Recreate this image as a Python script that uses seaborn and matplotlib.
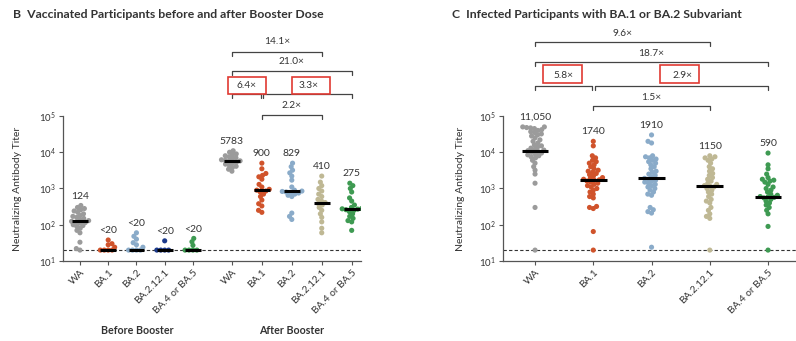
import warnings
warnings.filterwarnings("ignore")
import numpy as np
import pandas as pd
import matplotlib
matplotlib.use("Agg")
import matplotlib.pyplot as plt
import seaborn as sns
from matplotlib.transforms import blended_transform_factory
from matplotlib.patches import Rectangle
from matplotlib.ticker import NullLocator

# ---------------- data ----------------
variants = ["WA", "BA.1", "BA.2", "BA.2.12.1", "BA.4 or BA.5"]

# Panel B, before booster
b_before_wa = [340, 300, 280, 260, 240, 220, 200, 180, 170, 160, 150, 140, 130, 124,
               120, 115, 110, 100, 95, 90, 80, 70, 60, 33, 22, 20]
b_before_ba1 = [38, 30, 28, 24, 20, 20, 20, 20]
b_before_ba2 = [60, 48, 40, 32, 28, 24, 20, 20, 20, 20]
b_before_ba2121 = [36, 20, 20, 20, 20]
b_before_ba45 = [42, 34, 27, 20, 20, 20, 20]

# Panel B, after booster
b_after_wa = [11000, 10000, 9000, 8500, 8000, 7500, 7000, 6500, 6200, 6000, 5783, 5600,
              5300, 5000, 4700, 4400, 4100, 3800, 3400, 3000]
b_after_ba1 = [5000, 3500, 2600, 2300, 2100, 1800, 1300, 1100, 950, 900, 850, 800, 700,
               600, 480, 380, 330, 250, 220]
b_after_ba2 = [5000, 4000, 3200, 2700, 2200, 1700, 1100, 900, 850, 829, 800, 780, 750,
               700, 650, 600, 210, 170, 140]
b_after_ba2121 = [2200, 1500, 1200, 1000, 850, 700, 600, 500, 450, 410, 380, 350, 300,
                  250, 200, 160, 120, 80, 60]
b_after_ba45 = [1400, 1200, 1000, 800, 550, 450, 350, 300, 280, 275, 270, 260, 250, 230,
                200, 170, 150, 130, 120, 70]

# Panel C, infected participants
c_wa = [50000, 50000, 48000, 47000, 45000, 42000, 40000, 37000, 35000, 32000, 30000,
        28000, 25000, 22000, 20000, 18000, 16000, 15000, 14000, 13000, 12000, 11500,
        11050, 10500, 10000, 9500, 9000, 8500, 8000, 7500, 7000, 6000, 5000, 4000, 3200,
        2500, 1400, 300, 20]
c_ba1 = [20000, 15000, 8000, 7000, 6000, 5500, 5000, 4500, 4000, 3500, 3200, 3000, 2800,
         2600, 2400, 2200, 2000, 1900, 1800, 1740, 1700, 1600, 1500, 1400, 1300, 1200,
         1100, 1000, 900, 800, 700, 600, 550, 320, 300, 280, 65, 20]
c_ba2 = [30000, 20000, 18000, 8000, 7500, 7000, 6500, 6000, 5500, 5000, 4500, 4000, 3500,
         3000, 2800, 2500, 2300, 2100, 1910, 1800, 1700, 1600, 1500, 1400, 1300, 1200,
         1100, 1000, 900, 800, 700, 650, 300, 260, 230, 210, 24]
c_ba2121 = [8000, 7500, 7000, 6500, 6000, 5000, 4000, 3500, 3000, 2600, 2300, 2000, 1800,
            1600, 1400, 1300, 1200, 1150, 1100, 1000, 900, 800, 700, 600, 500, 450, 400,
            300, 250, 200, 170, 150, 20]
c_ba45 = [9500, 4500, 3500, 2500, 2000, 1800, 1700, 1600, 1500, 1300, 1100, 1000, 900,
          800, 700, 650, 600, 590, 570, 550, 500, 450, 400, 350, 300, 250, 200, 90, 20]

medians_before = [124, 20, 20, 20, 20]
labels_before = ["124", "<20", "<20", "<20", "<20"]
medians_after = [5783, 900, 829, 410, 275]
labels_after = ["5783", "900", "829", "410", "275"]
medians_c = [11050, 1740, 1910, 1150, 590]
labels_c = ["11,050", "1740", "1910", "1150", "590"]

folds_b = ["14.1\u00d7", "21.0\u00d7", "6.4\u00d7", "3.3\u00d7", "2.2\u00d7"]
folds_c = ["9.6\u00d7", "18.7\u00d7", "5.8\u00d7", "2.9\u00d7", "1.5\u00d7"]

# ---------------- style ----------------
col_wa, col_ba1, col_ba2 = "#9b9b9b", "#d0532b", "#8aabc9"
col_ba2121_pre, col_ba2121, col_ba45 = "#1c3a8c", "#bfb894", "#3e9a52"
colors_before = [col_wa, col_ba1, col_ba2, col_ba2121_pre, col_ba45]
colors_after = [col_wa, col_ba1, col_ba2, col_ba2121, col_ba45]

sns.set_theme(style="ticks")
plt.rcParams["font.family"] = ["Lato", "DejaVu Sans"]
TXT = "#333333"
SP = "#555555"
LAYOUT_SIZE = 2.7   # marker size used for the swarm layout (allows slight overlap)
DRAW_SIZE = 3.7     # marker size actually drawn

W, H = 796, 341
fig = plt.figure(figsize=(W / 100, H / 100), dpi=100)
axB = fig.add_axes([63 / W, 1 - 261 / H, (361 - 63) / W, 145 / H])
axC = fig.add_axes([503 / W, 1 - 261 / H, (796 - 503) / W, 145 / H])

pos_before = [0, 1, 2, 3, 4]
pos_after = [5.38 + 1.06 * i for i in range(5)]
pos_c = [0, 1, 2, 3, 4]

before_sets = [b_before_wa, b_before_ba1, b_before_ba2, b_before_ba2121, b_before_ba45]
after_sets = [b_after_wa, b_after_ba1, b_after_ba2, b_after_ba2121, b_after_ba45]
c_sets = [c_wa, c_ba1, c_ba2, c_ba2121, c_ba45]

rows, palB = [], {}
for i, (v, vals) in enumerate(zip(variants, before_sets)):
    key = "pre " + v
    palB[key] = colors_before[i]
    rows += [(pos_before[i], t, key) for t in vals]
for i, (v, vals) in enumerate(zip(variants, after_sets)):
    key = "post " + v
    palB[key] = colors_after[i]
    rows += [(pos_after[i], t, key) for t in vals]
dfB = pd.DataFrame(rows, columns=["pos", "titer", "key"])

rowsC, palC = [], {}
for i, (v, vals) in enumerate(zip(variants, c_sets)):
    palC[v] = colors_after[i]
    rowsC += [(pos_c[i], t, v) for t in vals]
dfC = pd.DataFrame(rowsC, columns=["pos", "titer", "key"])

sns.swarmplot(data=dfB, x="pos", y="titer", hue="key", palette=palB, native_scale=True,
              log_scale=(False, True), orient="x", size=LAYOUT_SIZE, linewidth=0,
              legend=False, ax=axB, zorder=3)
sns.swarmplot(data=dfC, x="pos", y="titer", hue="key", palette=palC, native_scale=True,
              log_scale=(False, True), orient="x", size=LAYOUT_SIZE, linewidth=0,
              legend=False, ax=axC, zorder=3)


def style_axis(ax, positions, xlim):
    ax.set_yscale("log")
    ax.set_ylim(10, 1e5)
    ax.set_xlim(*xlim)
    ax.set_yticks([10, 100, 1e3, 1e4, 1e5])
    ax.yaxis.set_minor_locator(NullLocator())
    ax.set_xticks(positions)
    ax.set_xticklabels(variants * (len(positions) // 5), rotation=45, ha="right",
                       rotation_mode="anchor", fontsize=7.3, color=TXT)
    ax.tick_params(axis="y", labelsize=7, labelcolor=TXT)
    ax.tick_params(length=3, width=0.8, color=SP, pad=2)
    for s in ["top", "right"]:
        ax.spines[s].set_visible(False)
    for s in ["left", "bottom"]:
        ax.spines[s].set_color(SP)
        ax.spines[s].set_linewidth(0.9)
    ax.axhline(20, color="#333333", ls=(0, (3, 2)), lw=0.8, zorder=1)
    ax.set_xlabel("")
    ax.set_ylabel("Neutralizing Antibody Titer", fontsize=7.5, color=TXT)
    ax.patch.set_alpha(0)


style_axis(axB, pos_before + pos_after, (-0.6, 9.95))
style_axis(axC, pos_c, (-0.55, 4.48))
axB.yaxis.set_label_coords((22 - 63) / 298, 0.5)
axC.yaxis.set_label_coords((465 - 503) / 293, 0.5)


def medians(ax, positions, meds, labels, sets, half):
    for p, m, lab, vals in zip(positions, meds, labels, sets):
        ax.hlines(m, p - half, p + half, color="black", lw=2.2, zorder=5)
        ax.annotate(lab, (p, max(vals)), xytext=(0, 3.5), textcoords="offset points",
                    ha="center", va="bottom", fontsize=7.5, color=TXT)

medians(axB, pos_before, medians_before, labels_before, before_sets, 0.28)
medians(axB, pos_after, medians_after, labels_after, after_sets, 0.28)
medians(axC, pos_c, medians_c, labels_c, c_sets, 0.23)


def bracket(ax, x0, x1, ypx, label, typx, tx=None):
    tr = blended_transform_factory(ax.transData, fig.transFigure)
    yf, tk = 1 - ypx / H, 4 / H
    ax.plot([x0, x0, x1, x1], [yf - tk, yf, yf, yf - tk], transform=tr, clip_on=False,
            color="#444444", lw=0.9)
    ax.text((x0 + x1) / 2 if tx is None else tx, 1 - typx / H, label, transform=tr,
            ha="center", va="center", fontsize=7.3, color=TXT)

pa = pos_after
bracket(axB, pa[0], pa[3], 52, folds_b[0], 42)
bracket(axB, pa[0], pa[4], 71, folds_b[1], 62)
bracket(axB, pa[0], pa[1] - 0.04, 94, folds_b[2], 85)
bracket(axB, pa[1] + 0.04, pa[4], 94, folds_b[3], 85, tx=(pa[2] + pa[3]) / 2 + 0.05)
bracket(axB, pa[1], pa[3], 115, folds_b[4], 106)

pc = pos_c
bracket(axC, pc[0], pc[3], 42, folds_c[0], 33)
bracket(axC, pc[0], pc[4], 62, folds_c[1], 54)
bracket(axC, pc[0], pc[1] - 0.03, 86, folds_c[2], 76)
bracket(axC, pc[1] + 0.03, pc[4], 86, folds_c[3], 76, tx=(pc[2] + pc[3]) / 2 + 0.03)
bracket(axC, pc[1], pc[3], 106, folds_c[4], 97)

for (x0, x1, y0, y1) in [(228, 266, 77, 94), (292, 330, 77, 94),
                         (543, 582, 65, 83), (660, 699, 65, 83)]:
    fig.add_artist(Rectangle((x0 / W, 1 - y1 / H), (x1 - x0) / W, (y1 - y0) / H,
                             transform=fig.transFigure, fill=False, ec="#e03a32", lw=1.2))

fig.text(13 / W, 1 - 14 / H, "B  Vaccinated Participants before and after Booster Dose",
         fontsize=8.8, fontweight="bold", va="center", color=TXT)
fig.text(452 / W, 1 - 14 / H, "C  Infected Participants with BA.1 or BA.2 Subvariant",
         fontsize=8.8, fontweight="bold", va="center", color=TXT)
fig.text(137 / W, 1 - 330 / H, "Before Booster", fontsize=7.7, fontweight="bold",
         ha="center", va="center", color=TXT)
fig.text(292 / W, 1 - 330 / H, "After Booster", fontsize=7.7, fontweight="bold",
         ha="center", va="center", color=TXT)

# lay out the swarms once at the small size, then freeze positions and enlarge dots
fig.canvas.draw()
for ax in (axB, axC):
    for coll in ax.collections:
        if "draw" in coll.__dict__:
            del coll.draw
            coll.set_sizes([DRAW_SIZE ** 2])

fig.savefig("out.png", dpi=100)
